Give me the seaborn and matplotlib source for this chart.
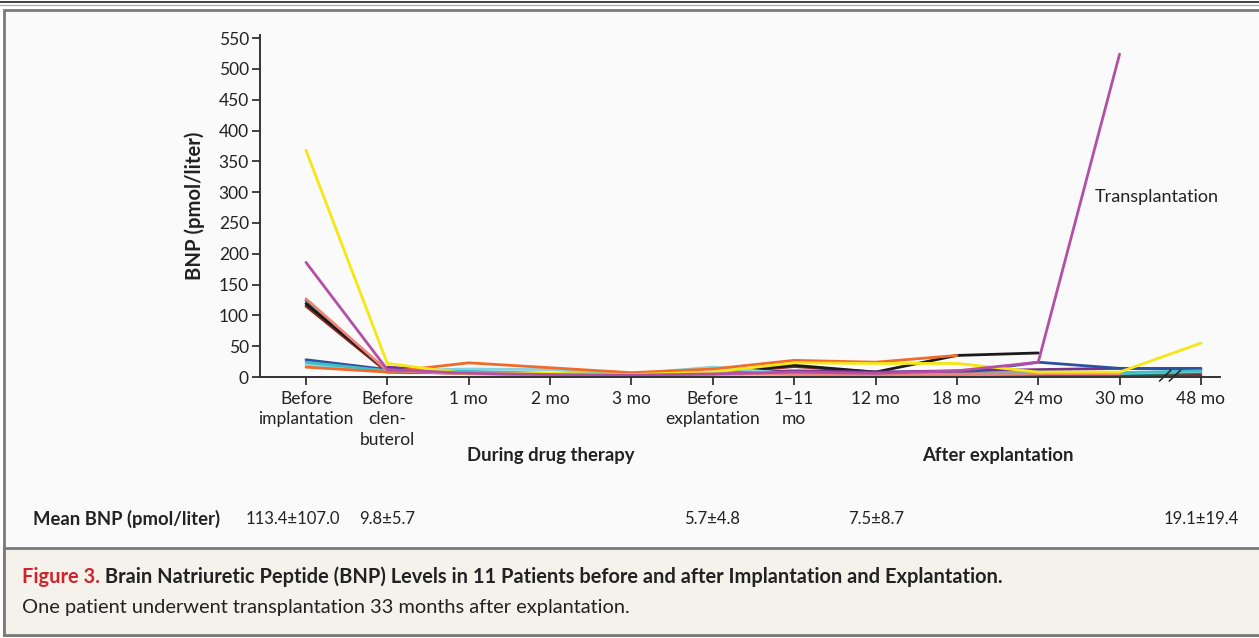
import numpy as np
import pandas as pd
import matplotlib
matplotlib.use("Agg")
import matplotlib.pyplot as plt
from matplotlib.patches import Rectangle
from matplotlib.lines import Line2D
import seaborn as sns

# ---- data -------------------------------------------------------------
time_labels = ["Before\nimplantation", "Before\nclen-\nbuterol", "1 mo", "2 mo", "3 mo",
               "Before\nexplantation", "1\u201311\nmo", "12 mo", "18 mo", "24 mo",
               "30 mo", "48 mo"]
nan = np.nan
p_darkred   = [115, 8, 6, 4, 3, 5, 17, 8, 6, 4, 3, 3]
p_teal      = [124, 9, 7, 3, 4, 6, 5, 4, 4, 5, 5, 7]
p_black     = [119, 10, 8, 4, 3, 6, 19, 8, 35, 39, nan, nan]
p_purple    = [nan, 16, 8, 5, 4, 6, 10, 8, 10, 12, 14, 14]
p_blue      = [28, 12, 8, 5, 4, 6, 5, 5, 6, 24, 14, 13]
p_lightcyan = [20, 10, 13, 12, 5, 16, 5, 4, 4, 6, 6, 9]
p_cyan      = [24, 10, 9, 6, 5, 8, 5, 4, 4, 8, 7, 10]
p_salmon    = [127, 10, 5, 3, 3, 4, 5, 4, 5, 5, 5, nan]
p_orange    = [16, 8, 23, 15, 7, 13, 27, 24, 35, nan, nan, nan]
p_yellow    = [368, 22, 5, 6, 4, 8, 23, 22, 22, 8, 8, 55]
p_magenta   = [186, 12, 6, 4, 3, 5, 8, 6, 10, 24, 524, nan]

mean_labels = ["113.4\u00b1107.0", "9.8\u00b15.7", "5.7\u00b14.8", "7.5\u00b18.7", "19.1\u00b119.4"]

patients = {
    "darkred": p_darkred, "teal": p_teal, "black": p_black, "purple": p_purple,
    "blue": p_blue, "lightcyan": p_lightcyan, "cyan": p_cyan, "salmon": p_salmon,
    "orange": p_orange, "yellow": p_yellow, "magenta": p_magenta,
}
colors = {
    "darkred": "#8b2a1e", "teal": "#12807e", "black": "#1a1a1a", "purple": "#77308f",
    "blue": "#2f4fa0", "lightcyan": "#86d3e3", "cyan": "#3fbfc4", "salmon": "#f08279",
    "orange": "#f26a2a", "yellow": "#f5e614", "magenta": "#b44fa6",
}

rows = []
for name, vals in patients.items():
    for i, v in enumerate(vals):
        rows.append({"patient": name, "pos": i, "bnp": v})
df = pd.DataFrame(rows).dropna()

# ---- figure -----------------------------------------------------------
sns.set_theme(style="ticks")
plt.rcParams["font.family"] = ["Lato", "DejaVu Sans"]

W, H = 1259, 638
fig = plt.figure(figsize=(W / 100, H / 100), dpi=100)
fig.patch.set_facecolor("white")

def fx(x):
    return x / W

def fy(y):
    return 1 - y / H

TXT = "#222222"

# panel frame and caption box
fig.add_artist(Line2D([0, 1], [fy(2), fy(2)], color="#222222", lw=1.2))
fig.add_artist(Line2D([0, 1], [fy(4.5), fy(4.5)], color="#b0b0b0", lw=1.0))
fig.add_artist(Rectangle((fx(3.5), fy(635)), 1.0, fy(10) - fy(635),
                         facecolor="#fafafa", edgecolor="#7a7a7a", lw=2.0, zorder=0))
fig.add_artist(Rectangle((fx(3.5), fy(635)), 1.0, fy(548) - fy(635),
                         facecolor="#f5f2eb", edgecolor="#7a7a7a", lw=2.0, zorder=0))

ax = fig.add_axes([fx(260), fy(377), fx(1220) - fx(260), fy(35) - fy(377)])
ax.set_facecolor("none")

sns.lineplot(data=df, x="pos", y="bnp", hue="patient", palette=colors,
             hue_order=list(patients.keys()), estimator=None, sort=True,
             linewidth=2.0, legend=False, ax=ax)

ax.set_xlim(-0.565, 11.234)
ax.set_ylim(0, 555)
ax.set_yticks(np.arange(0, 551, 50))
ax.set_xticks(range(len(time_labels)))
ax.set_xticklabels(time_labels, linespacing=1.35)
ax.set_xlabel("")
ax.set_ylabel("BNP (pmol/liter)", fontsize=14.6, fontweight="bold", color=TXT, labelpad=10)
for side in ("top", "right"):
    ax.spines[side].set_visible(False)
for side in ("left", "bottom"):
    ax.spines[side].set_color("#333333")
    ax.spines[side].set_linewidth(1.4)
ax.tick_params(axis="both", direction="out", length=6, width=1.3, color="#333333",
               labelsize=12.5, labelcolor=TXT)
ax.tick_params(axis="x", pad=4)
ax.tick_params(axis="y", pad=2)

# axis break between 30 mo and 48 mo
tr = ax.get_xaxis_transform()
for dx in (-0.06, 0.06):
    ax.plot([10.62 + dx - 0.07, 10.62 + dx + 0.07], [-0.012, 0.02], transform=tr,
            color="#222222", lw=1.1, clip_on=False)

ax.text(9.70, 292, "Transplantation", fontsize=13, color=TXT, va="center", ha="left")

# period headings
fig.text(fx(551), fy(456), "During drug therapy", fontsize=13.3, fontweight="bold",
         color=TXT, ha="center", va="center")
fig.text(fx(998), fy(456), "After explantation", fontsize=13.3, fontweight="bold",
         color=TXT, ha="center", va="center")

# mean row
fig.text(fx(33), fy(519), "Mean BNP (pmol/liter)", fontsize=13.3, fontweight="bold",
         color=TXT, ha="left", va="center")
for xc, lab in zip([293, 387, 712, 876, 1201], mean_labels):
    fig.text(fx(xc), fy(519), lab, fontsize=12, color=TXT, ha="center", va="center")

# caption
t1 = fig.text(fx(22), fy(587), "Figure 3.", fontsize=14.4, fontweight="bold",
              color="#d2232a", ha="left", va="bottom")
ax.annotate(" Brain Natriuretic Peptide (BNP) Levels in 11 Patients before and after "
            "Implantation and Explantation.", xy=(1, 0), xycoords=t1,
            fontsize=14.4, fontweight="bold", color=TXT, ha="left", va="bottom",
            annotation_clip=False)
fig.text(fx(22), fy(607), "One patient underwent transplantation 33 months after explantation.",
         fontsize=14.4, color=TXT, ha="left", va="center")

fig.savefig("out.png", dpi=100)
